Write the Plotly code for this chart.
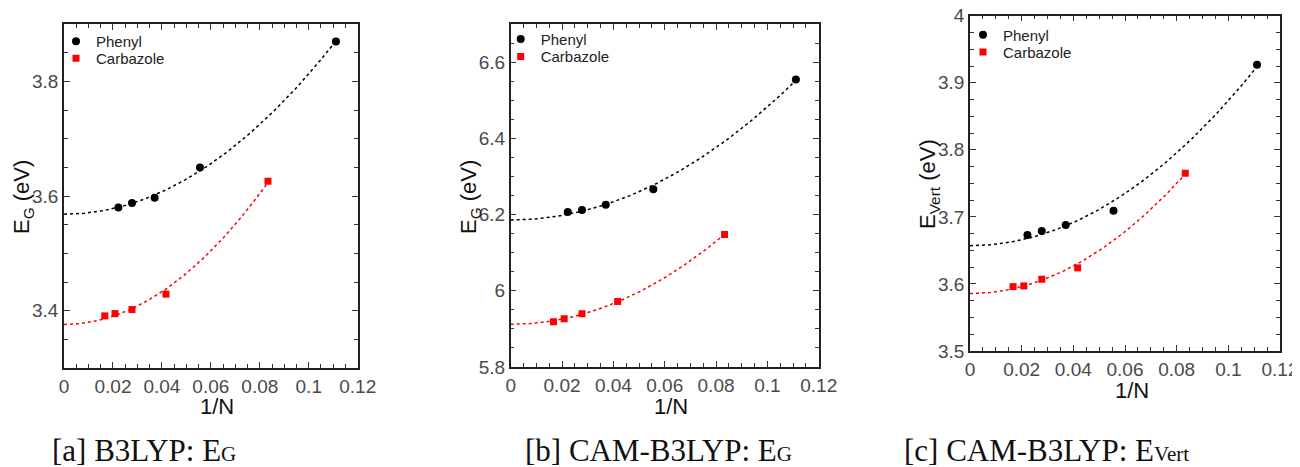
import numpy as np
import plotly.graph_objects as go

# ---------------- data ----------------
N_phenyl = [45, 36, 27, 18, 9]
N_carbazole = [60, 48, 36, 24, 12]

a_phenyl = [3.580, 3.588, 3.597, 3.650, 3.870]
a_carbazole = [3.391, 3.395, 3.402, 3.429, 3.626]

b_phenyl = [6.207, 6.212, 6.226, 6.267, 6.555]
b_carbazole = [5.919, 5.927, 5.940, 5.972, 6.148]

c_phenyl = [3.673, 3.679, 3.688, 3.709, 3.927]
c_carbazole = [3.596, 3.597, 3.607, 3.624, 3.765]

series_names = ["Phenyl", "Carbazole"]
captions = ['[a] B3LYP: E<span style="font-size:21px">G</span>',
            '[b] CAM-B3LYP: E<span style="font-size:21px">G</span>',
            '[c] CAM-B3LYP: E<span style="font-size:21px">Vert</span>']
ytitles = ["E<sub>G</sub> (eV)", "E<sub>G</sub> (eV)", "E<sub>Vert</sub> (eV)"]
xtitle = "1/N"

# ---------------- layout helpers ----------------
# the page body adds an 8px margin, so the figure is drawn 8px smaller and
# page-pixel positions are shifted accordingly
OFF = 8
W, H = 1300 - OFF, 467 - OFF
def px_x(p):
    return (p - OFF) / W
def px_y(p):
    return 1 - (p - OFF) / H

panels = [
    dict(x0=64, x1=357.7, y0=24.3, y1=368, yr=[3.3, 3.9], tick0=3.4, dtick=0.2, minor=0.05,
         ph=a_phenyl, cz=a_carbazole, ytx=23, yty=197, xtx=217, xty=406,
         capx=144, capy=450, legx=56, legy=(41.5, 58.5)),
    dict(x0=510.7, x1=818.7, y0=24.3, y1=367, yr=[5.8, 6.7], tick0=5.8, dtick=0.2, minor=0.05,
         ph=b_phenyl, cz=b_carbazole, ytx=470, yty=197, xtx=671, xty=406,
         capx=658, capy=450, legx=500.7, legy=(39.3, 56.7)),
    dict(x0=970, x1=1280, y0=15.7, y1=351, yr=[3.5, 4.0000001], tick0=3.5, dtick=0.1, minor=0.025,
         ph=c_phenyl, cz=c_carbazole, ytx=929, yty=184, xtx=1132, xty=390,
         capx=1046, capy=450, legx=963, legy=(35, 52.3)),
]

tickfont = dict(family="Liberation Sans, Arial, sans-serif", size=19, color="#4a4a4a")
titlefont = dict(family="Liberation Sans, Arial, sans-serif", size=22, color="#111111")
capfont = dict(family="Liberation Serif, Times New Roman, serif", size=31, color="#111111")
legfont = dict(family="Liberation Sans, Arial, sans-serif", size=15, color="#222222")


def fit_a_cx2(xs, ys):
    """least-squares fit y = a + c x^2"""
    xs = np.asarray(xs)
    A = np.vstack([np.ones_like(xs), xs ** 2]).T
    (a, c), *_ = np.linalg.lstsq(A, np.asarray(ys), rcond=None)
    return a, c


fig = go.Figure()
layout = dict(width=W, height=H,
              margin=dict(l=0, r=0, t=0, b=0, pad=0, autoexpand=False),
              paper_bgcolor="white", plot_bgcolor="white", showlegend=True,
              annotations=[])

x_phenyl = [1.0 / n for n in N_phenyl]
x_carb = [1.0 / n for n in N_carbazole]

for i, p in enumerate(panels):
    k = "" if i == 0 else str(i + 1)
    xa, ya = "x" + k, "y" + k
    leg_ph = "legend" if i == 0 else "legend" + str(2 * i + 1)
    leg_cz = "legend" + str(2 * i + 2)

    for xs, ys, col in [(x_phenyl, p["ph"], "black"), (x_carb, p["cz"], "red")]:
        a, c = fit_a_cx2(xs, ys)
        xf = np.linspace(0, max(xs), 120)
        fig.add_trace(go.Scatter(x=xf, y=a + c * xf ** 2, mode="lines",
                                 line=dict(color=col, width=1.5, dash="dot"),
                                 showlegend=False, hoverinfo="skip",
                                 xaxis=xa, yaxis=ya))
    fig.add_trace(go.Scatter(x=x_phenyl, y=p["ph"], mode="markers", name=series_names[0],
                             marker=dict(color="black", size=8, symbol="circle"),
                             xaxis=xa, yaxis=ya, legend=leg_ph))
    fig.add_trace(go.Scatter(x=x_carb, y=p["cz"], mode="markers", name=series_names[1],
                             marker=dict(color="red", size=7, symbol="square"),
                             xaxis=xa, yaxis=ya, legend=leg_cz))

    common = dict(showline=True, mirror="allticks", linecolor="#222222", linewidth=1.5,
                  ticks="inside", ticklen=6, tickwidth=1, tickcolor="#333333",
                  showgrid=False, zeroline=False, tickfont=tickfont, automargin=False,
                  ticklabeloverflow="allow")
    layout["xaxis" + k] = dict(domain=[px_x(p["x0"]), px_x(p["x1"])], anchor=ya,
                               range=[0, 0.1200001], tick0=0, dtick=0.02,
                               minor=dict(dtick=0.005, ticks="inside", ticklen=4,
                                          tickcolor="#333333", showgrid=False),
                               **common)
    layout["yaxis" + k] = dict(domain=[px_y(p["y1"]), px_y(p["y0"])], anchor=xa,
                               range=p["yr"], tick0=p["tick0"], dtick=p["dtick"],
                               minor=dict(dtick=p["minor"], ticks="inside", ticklen=4,
                                          tickcolor="#333333", showgrid=False),
                               **common)
    for leg, ly in [(leg_ph, p["legy"][0]), (leg_cz, p["legy"][1])]:
        layout[leg] = dict(x=px_x(p["legx"]), y=px_y(ly), xanchor="left", yanchor="middle",
                           bgcolor="rgba(0,0,0,0)", borderwidth=0, font=legfont)
    layout["annotations"] += [
        dict(text=ytitles[i], x=px_x(p["ytx"]), y=px_y(p["yty"]), xref="paper", yref="paper",
             textangle=-90, showarrow=False, xanchor="center", yanchor="middle", font=titlefont),
        dict(text=xtitle, x=px_x(p["xtx"]), y=px_y(p["xty"]), xref="paper", yref="paper",
             showarrow=False, xanchor="center", yanchor="middle", font=titlefont),
        dict(text=captions[i], x=px_x(p["capx"]), y=px_y(p["capy"]), xref="paper", yref="paper",
             showarrow=False, xanchor="center", yanchor="middle", font=capfont),
    ]

fig.update_layout(**layout)
fig.write_html("out.html")
